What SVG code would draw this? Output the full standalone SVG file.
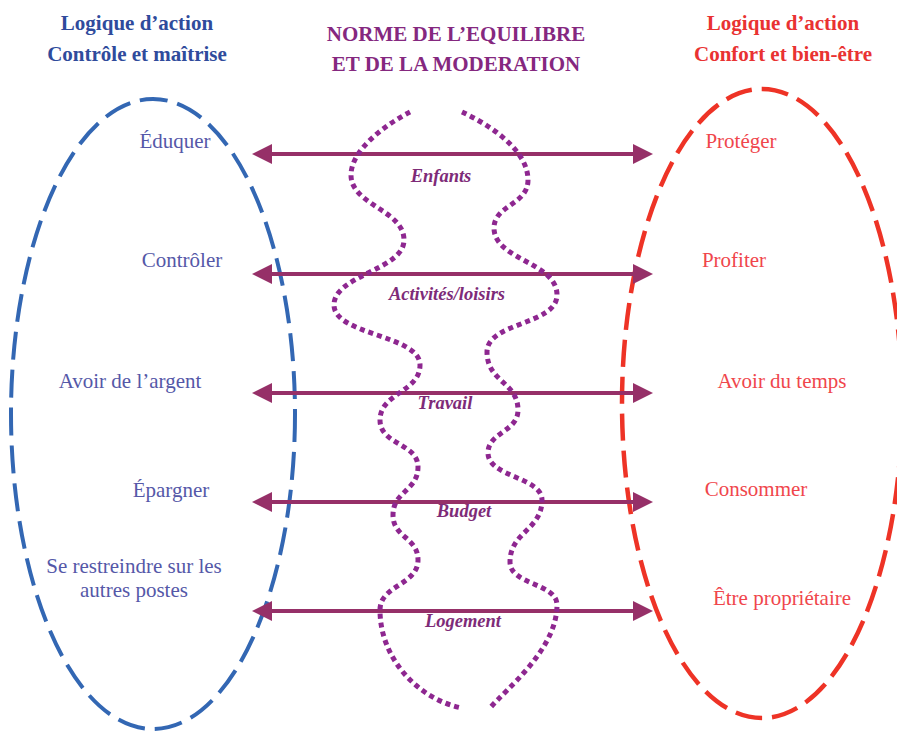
<svg xmlns="http://www.w3.org/2000/svg" width="897" height="731" viewBox="0 0 897 731">
  <style>
    text { font-family: "Liberation Serif", "Times New Roman", serif; text-anchor: middle; }
    .hdr { font-size: 21px; font-weight: bold; }
    .hl { fill: #2F4B9C; }
    .hc { fill: #85287F; }
    .hr { fill: #E93232; }
    .nl { font-size: 21px; fill: #5558A8; }
    .nr { font-size: 21px; fill: #F0464C; }
    .mid { font-size: 18.5px; font-weight: bold; font-style: italic; fill: #7E2B78; }
    .ell-l { fill: none; stroke: #3367B3; stroke-width: 4; stroke-dasharray: 28 10; }
    .ell-r { fill: none; stroke: #EE3326; stroke-width: 4.5; stroke-dasharray: 27 10; }
    .wave { fill: none; stroke: #8E2790; stroke-width: 5; stroke-dasharray: 5 4; }
    .arr { fill: none; stroke: #963068; stroke-width: 4; marker-start: url(#head); marker-end: url(#head); }
  </style>
  <defs>
    <marker id="head" viewBox="0 0 20 20" markerUnits="userSpaceOnUse" markerWidth="20" markerHeight="20" refX="10" refY="10" orient="auto-start-reverse">
      <path d="M0,0 L20,10 L0,20 z" fill="#963068"/>
    </marker>
  </defs>

  <g id="headers">
    <text class="hdr hl" x="137" y="30">Logique d’action</text>
    <text class="hdr hl" x="137" y="61">Contrôle et maîtrise</text>
    <text class="hdr hc" x="456" y="41">NORME DE L’EQUILIBRE</text>
    <text class="hdr hc" x="456" y="71">ET DE LA MODERATION</text>
    <text class="hdr hr" x="783" y="30">Logique d’action</text>
    <text class="hdr hr" x="783" y="61">Confort et bien-être</text>
  </g>

  <g id="left-group">
    <ellipse class="ell-l" cx="153" cy="414" rx="142" ry="315"/>
    <text class="nl" x="175" y="148">Éduquer</text>
    <text class="nl" x="182" y="267">Contrôler</text>
    <text class="nl" x="130" y="388">Avoir de l’argent</text>
    <text class="nl" x="171" y="497">Épargner</text>
    <text class="nl" x="134" y="573">Se restreindre sur les</text>
    <text class="nl" x="134" y="597">autres postes</text>
  </g>

  <g id="right-group">
    <ellipse class="ell-r" cx="762" cy="403.5" rx="140" ry="314.5"/>
    <text class="nr" x="741" y="148">Protéger</text>
    <text class="nr" x="734" y="267">Profiter</text>
    <text class="nr" x="782" y="388">Avoir du temps</text>
    <text class="nr" x="756" y="496">Consommer</text>
    <text class="nr" x="782" y="605">Être propriétaire</text>
  </g>

  <g id="connectors">
    <path class="arr" d="M262,154 H643"/>
    <path class="arr" d="M262,274 H643"/>
    <path class="arr" d="M262,393 H643"/>
    <path class="arr" d="M262,502 H643"/>
    <path class="arr" d="M262,611 H643"/>
  </g>

  <g id="norm-group">
    <path class="wave" d="M410,112 C385,125 351,150 351,175 C351,205 404,210 404,240 C404,270 334,275 334,305 C334,335 420,335 420,365 C420,392 380,393 380,420 C380,445 418,443 418,467 C418,491 393,491 393,515 C393,538 418,537 418,560 C418,585 380,585 380,610 C380,660 420,700 462,708"/>
    <path class="wave" d="M462,112 C490,125 528,150 528,180 C528,205 494,205 494,228 C494,260 557,262 557,295 C557,325 487,322 487,352 C487,382 518,382 518,410 C518,432 488,432 488,453 C488,477 542,477 542,500 C542,530 510,532 510,562 C510,585 557,583 557,605 C557,650 505,690 490,708"/>
    <text class="mid" x="441" y="182">Enfants</text>
    <text class="mid" x="447" y="300">Activités/loisirs</text>
    <text class="mid" x="445" y="409">Travail</text>
    <text class="mid" x="464" y="517">Budget</text>
    <text class="mid" x="463" y="627">Logement</text>
  </g>
</svg>
